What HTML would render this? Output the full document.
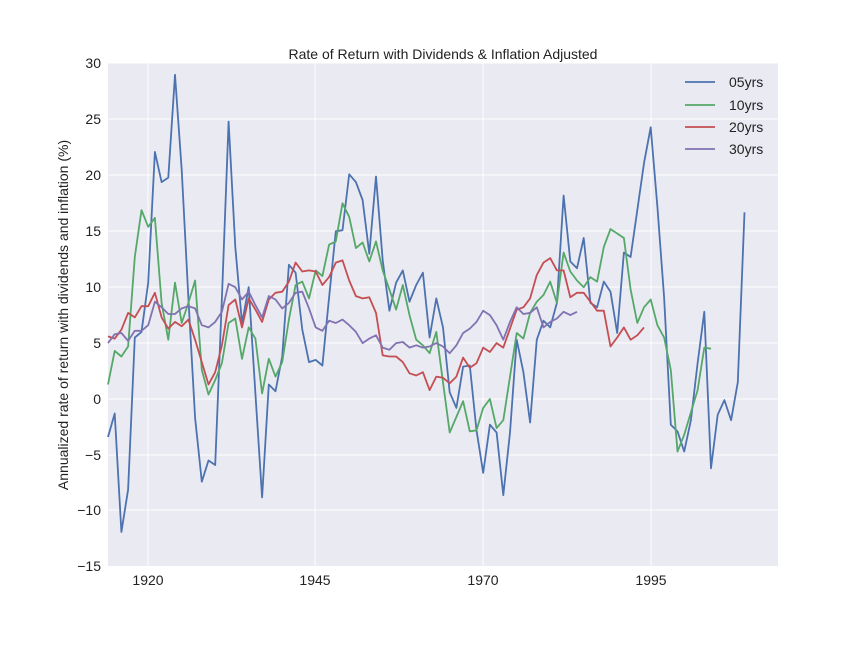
<!DOCTYPE html>
<html><head><meta charset="utf-8"><style>
body{margin:0;background:#fff;}
svg text{font-family:"Liberation Sans","DejaVu Sans",sans-serif;fill:#222;}
</style></head><body>
<svg id="s" width="864" height="648" xmlns="http://www.w3.org/2000/svg">
<rect x="108" y="63" width="670" height="503" fill="#eaeaf2"/>
<g stroke="#fff" stroke-width="1">
<line x1="108" x2="778" y1="63" y2="63"/><line x1="108" x2="778" y1="119" y2="119"/>
<line x1="108" x2="778" y1="175" y2="175"/><line x1="108" x2="778" y1="231" y2="231"/>
<line x1="108" x2="778" y1="287" y2="287"/><line x1="108" x2="778" y1="343" y2="343"/>
<line x1="108" x2="778" y1="399" y2="399"/><line x1="108" x2="778" y1="455" y2="455"/>
<line x1="108" x2="778" y1="510" y2="510"/>
<line y1="63" y2="566" x1="148" x2="148"/><line y1="63" y2="566" x1="315" x2="315"/>
<line y1="63" y2="566" x1="483" x2="483"/><line y1="63" y2="566" x1="651" x2="651"/>
</g>
<g font-size="14" text-anchor="end">
<text x="101" y="68">30</text><text x="101" y="124">25</text><text x="101" y="180">20</text>
<text x="101" y="236">15</text><text x="101" y="292">10</text><text x="101" y="348">5</text>
<text x="101" y="404">0</text><text x="101" y="460">−5</text><text x="101" y="515">−10</text>
<text x="101" y="571">−15</text>
</g>
<g font-size="14" text-anchor="middle">
<text x="148" y="585">1920</text><text x="315" y="585">1945</text>
<text x="483" y="585">1970</text><text x="651" y="585">1995</text>
</g>
<text x="443" y="59" font-size="14" text-anchor="middle">Rate of Return with Dividends &amp; Inflation Adjusted</text>
<text transform="translate(68,315) rotate(-90)" font-size="14" text-anchor="middle">Annualized rate of return with dividends and inflation (%)</text>
<g id="lines" fill="none" stroke-width="1.8" stroke-linejoin="round"></g>
<g stroke-width="1.8">
<line x1="685" x2="715" y1="82" y2="82" stroke="#4c72b0"/>
<line x1="685" x2="715" y1="105" y2="105" stroke="#55a868"/>
<line x1="685" x2="715" y1="127" y2="127" stroke="#c44e52"/>
<line x1="685" x2="715" y1="149" y2="149" stroke="#8172b2"/>
</g>
<g font-size="14">
<text x="729" y="87">05yrs</text><text x="729" y="110">10yrs</text>
<text x="729" y="132">20yrs</text><text x="729" y="154">30yrs</text>
</g>
</svg>
<script>
var B=[-3.4,-1.3,-11.9,-8.1,5.5,6,10.4,22.1,19.4,19.8,29,20.5,9,-1.7,-7.4,-5.5,-5.9,9,24.8,13.6,6.8,10,0.5,-8.8,1.3,0.7,3.8,12,11.3,6.2,3.3,3.5,3,9.1,15,15.1,20.1,19.4,17.8,13,19.9,12.4,7.9,10.4,11.5,8.7,10.2,11.3,5.5,9,6.4,0.6,-0.8,2.9,3,-2.8,-6.6,-2.3,-3,-8.6,-3,5.3,2.4,-2.1,5.3,7,6.4,8.6,18.2,12.3,11.7,14.4,8.6,8.2,10.5,9.6,5.9,13.1,12.7,16.9,21.1,24.3,17.2,9.1,-2.3,-2.9,-4.7,-1.9,3.2,7.8,-6.2,-1.4,-0.1,-1.9,1.5,16.7];
var G=[1.3,4.3,3.8,4.7,12.7,16.9,15.4,16.2,8.6,5.3,10.4,6.8,8.6,10.6,2.6,0.4,1.7,3.2,6.8,7.2,3.6,6.4,5.4,0.5,3.6,2,3.3,7.1,10.2,10.5,9,11.5,11,13.8,14.1,17.5,16.3,13.5,14,12.3,14.1,11.5,9.8,8,10.2,7.5,5.3,4.8,4.1,6,1.5,-3,-1.6,-0.2,-2.9,-2.8,-0.8,0,-2.6,-1.9,2,5.9,5.4,7.7,8.7,9.3,10.5,8.6,13.1,11.4,10.6,10,10.9,10.5,13.6,15.2,14.8,14.4,9.8,6.8,8.2,8.9,6.6,5.5,2.6,-4.7,-3.2,-1.2,0.8,4.6,4.5];
var R=[5.6,5.4,6.2,7.7,7.3,8.3,8.3,9.5,7.3,6.3,6.9,6.5,7.1,5.3,3.3,1.3,2.4,4.8,8.4,8.9,6.4,9,8,6.9,8.9,9.5,9.6,10.5,12.2,11.4,11.5,11.4,10.2,10.9,12.2,12.4,10.6,9.2,9,9.1,7.7,3.9,3.8,3.8,3.3,2.3,2.1,2.4,0.8,2,1.9,1.4,2,3.7,2.8,3.2,4.6,4.2,5,4.6,6.3,8,8.2,9,11.1,12.2,12.6,11.5,11.5,9.1,9.5,9.5,8.7,7.9,7.9,4.7,5.5,6.4,5.3,5.7,6.4];
var P=[5,5.8,5.9,5.2,6.1,6.1,6.6,8.7,8.2,7.6,7.6,8.1,8.3,8.1,6.6,6.4,6.9,7.8,10.3,10,8.9,9.6,8.4,7.3,9.2,8.9,8.1,8.6,9.5,9.6,8.1,6.4,6.1,7,6.8,7.1,6.6,6,5,5.4,5.7,4.6,4.4,5,5.1,4.6,4.8,4.6,4.7,5,4.7,4.1,4.8,5.9,6.3,6.9,7.9,7.5,6.6,5.3,6.9,8.2,7.6,7.7,8.2,6.4,6.9,7.2,7.8,7.5,7.8];
var g=document.getElementById('lines');
[[B,'#4c72b0'],[G,'#55a868'],[R,'#c44e52'],[P,'#8172b2']].forEach(function(s){
 var pts=s[0].map(function(v,i){return (108+6.7*i).toFixed(1)+','+(399-11.18*v).toFixed(1);}).join(' ');
 var pl=document.createElementNS('http://www.w3.org/2000/svg','polyline');
 pl.setAttribute('points',pts);pl.setAttribute('stroke',s[1]);g.appendChild(pl);
});
</script>
</body></html>
